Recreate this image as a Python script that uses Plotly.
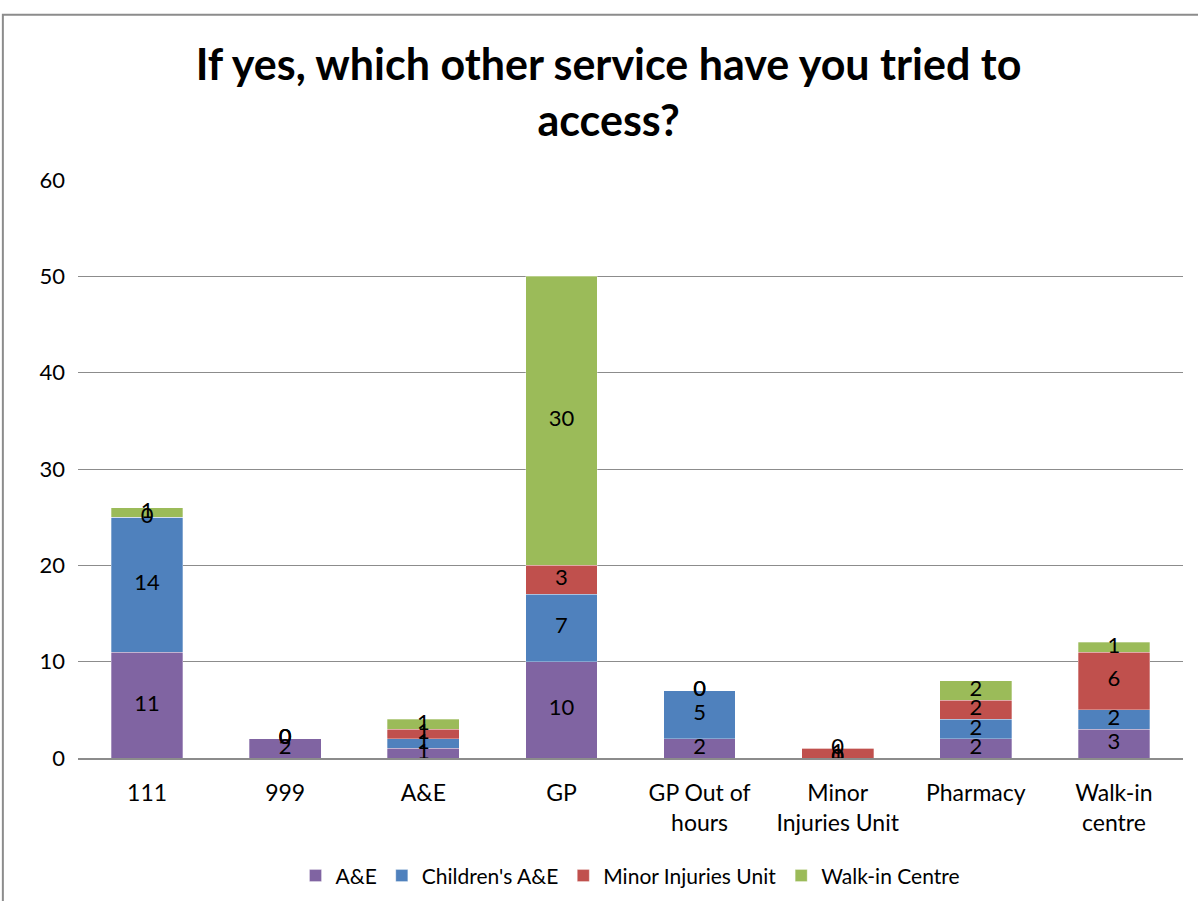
import plotly.graph_objects as go

# Services respondents tried to access, split by where they ended up
categories = ["111", "999", "A&E", "GP", "GP Out of<br>hours",
              "Minor<br>Injuries Unit", "Pharmacy", "Walk-in<br>centre"]
ae = [11, 2, 1, 10, 2, 0, 2, 3]
childrens_ae = [14, 0, 1, 7, 5, 0, 2, 2]
minor_injuries = [0, 0, 1, 3, 0, 1, 2, 6]
walk_in = [1, 0, 1, 30, 0, 0, 2, 1]

series = [
    ("A&E", ae, "#8064A2"),
    ("Children's A&E", childrens_ae, "#4F81BD"),
    ("Minor Injuries Unit", minor_injuries, "#C0504D"),
    ("Walk-in Centre", walk_in, "#9BBB59"),
]

FONT = "Lato"

fig = go.Figure()

base = [0] * len(categories)
label_x, label_y, label_t = [], [], []
for name, vals, color in series:
    fig.add_trace(go.Bar(
        x=categories, y=vals, name=name,
        marker=dict(color=color, line=dict(color="rgba(255,255,255,0.6)", width=0.5)),
    ))
    for i, v in enumerate(vals):
        label_x.append(categories[i])
        label_y.append(base[i] + v / 2)
        label_t.append(str(v))
    base = [b + v for b, v in zip(base, vals)]

# value labels centred in each stacked segment
fig.add_trace(go.Scatter(
    x=label_x, y=label_y, text=label_t, mode="text",
    textfont=dict(family=FONT, size=22, color="#000000"),
    showlegend=False, hoverinfo="skip",
))

fig.update_layout(
    barmode="stack",
    bargap=0.48,
    width=1198, height=901,
    margin=dict(l=78, r=15, t=180, b=143, autoexpand=False),
    paper_bgcolor="white", plot_bgcolor="white",
    font=dict(family=FONT, color="#000000"),
    title=dict(
        text="<b>If yes, which other service have you tried to<br>access?</b>",
        x=0.508, xanchor="center", y=0.911, yanchor="middle",
        font=dict(family=FONT, size=43, color="#000000"),
    ),
    legend=dict(
        orientation="h", x=0.5, xanchor="center", y=-0.204, yanchor="middle",
        font=dict(family=FONT, size=21, color="#000000"),
        traceorder="normal", itemwidth=30,
    ),
    xaxis=dict(
        showgrid=False, showline=True, linecolor="#8c8c8c", linewidth=1.5,
        tickfont=dict(family=FONT, size=23, color="#000000"),
        ticklabelstandoff=14, automargin=False,
    ),
    yaxis=dict(
        range=[0, 60], dtick=10, showgrid=True, gridcolor="#8c8c8c", gridwidth=1,
        zeroline=False, showline=False,
        tickfont=dict(family=FONT, size=22, color="#000000"),
        ticklabelstandoff=12, automargin=False,
    ),
    shapes=[dict(
        type="rect", xref="paper", yref="paper",
        x0=-0.068, x1=1.2, y0=-0.6, y1=1.286,
        line=dict(color="#8c8c8c", width=2), fillcolor="rgba(0,0,0,0)", layer="below",
    )],
)

fig.write_html("out.html")
